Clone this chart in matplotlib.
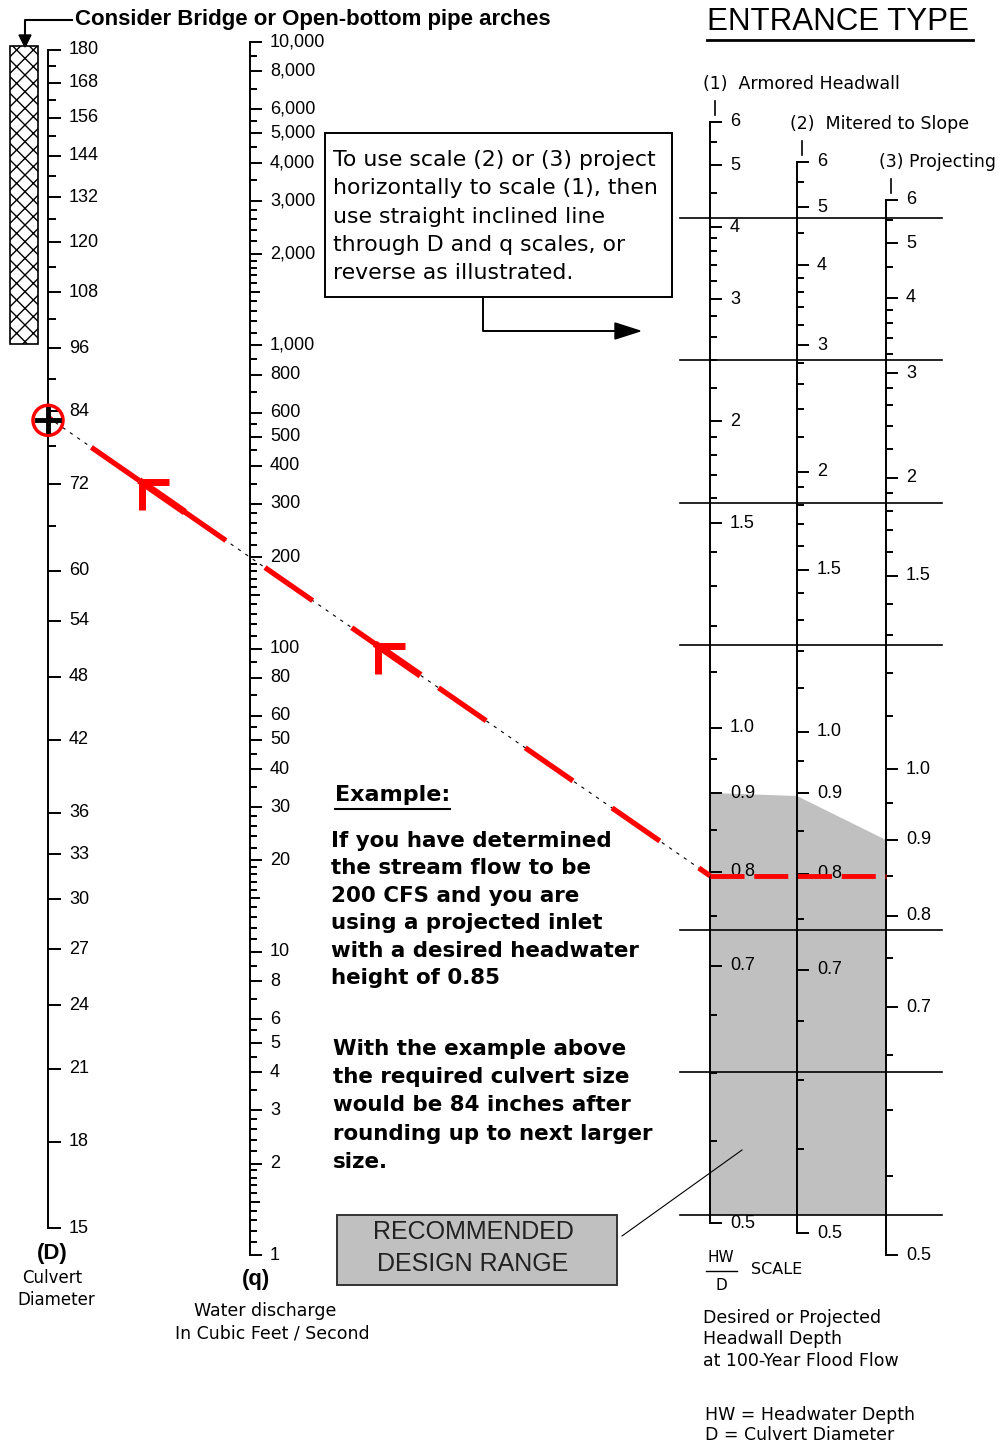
import numpy as np
import matplotlib.pyplot as plt
from matplotlib.patches import Rectangle, Polygon, Circle

# culvert diameter scale D (inches), log scale
d_labels = [180, 168, 156, 144, 132, 120, 108, 96, 84, 72, 60, 54, 48, 42, 36, 33, 30, 27, 24, 21, 18, 15]
d_minor = [174, 162, 150, 138, 126, 114, 102, 90, 78, 66]
d_bridge = [96, 180]          # "consider bridge" hatched range

# discharge scale q (cfs), log scale
q_labels = [10000, 8000, 6000, 5000, 4000, 3000, 2000, 1000, 800, 600, 500, 400,
            300, 200, 100, 80, 60, 50, 40, 30, 20, 10, 8, 6, 5, 4, 3, 2, 1]
q_minor_mult = [1.1, 1.2, 1.3, 1.4, 1.5, 1.6, 1.7, 1.8, 1.9, 2.2, 2.4, 2.6, 2.8, 3.5, 4.5, 5.5, 7, 9]
q_decades = [1, 10, 100, 1000]

# HW/D scales for the three entrance types
hw_labels = [6, 5, 4, 3, 2, 1.5, 1.0, 0.9, 0.8, 0.7, 0.5]
hw_minor = [5.5, 4.5, 3.8, 3.6, 3.4, 3.2, 2.8, 2.6, 2.4, 2.2, 1.9, 1.8, 1.7, 1.6,
            1.4, 1.3, 1.2, 1.1, 0.95, 0.85, 0.75, 0.65, 0.6, 0.55]
# where each labelled HW/D value sits on the printed scales (pixel rows)
hw_cal = [
    [122, 165, 227, 299, 421, 523, 728, 793, 872, 966, 1223],
    [162, 207, 265, 345, 472, 570, 732, 793, 874, 970, 1233],
    [200, 243, 298, 373, 478, 576, 769, 840, 916, 1007, 1255],
]
entrance_names = ["(1)  Armored Headwall", "(2)  Mitered to Slope", "(3) Projecting"]
design_top = 0.9

# worked example
example_q = 200
example_hwd = 0.85

# layout
XD, XQ = 48, 250
XHW = [710, 797, 886]
grid_rows = [0, 1, 2, 3, 5, 6, 7]


def d_y(v):
    return 50 + (np.log10(180) - np.log10(v)) * 1091.6


def q_y(v):
    return 42 + (4 - np.log10(v)) * 303.25


def hw_y(i, v):
    return np.interp(1.0 / np.asarray(v, float), 1.0 / np.array(hw_labels), hw_cal[i])


plt.rcParams['font.family'] = ['DejaVu Sans']
fig = plt.figure(figsize=(10, 14.44), dpi=100)
ax = fig.add_axes([0, 0, 1, 1])
ax.set_xlim(0, 1000)
ax.set_ylim(1444, 0)
ax.axis('off')

LW = 1.4
TICKFONT = dict(family='Liberation Sans', fontsize=13, va='center')


def tick(x, y, length):
    ax.plot([x, x + length], [y, y], color='k', lw=LW, solid_capstyle='butt')


# ---- D scale
ax.plot([XD, XD], [d_y(180), d_y(15)], color='k', lw=LW)
for v in d_labels:
    tick(XD, d_y(v), 13)
    ax.text(XD + 21, d_y(v), str(v), **TICKFONT)
for v in d_minor:
    tick(XD, d_y(v), 8)
ax.add_patch(Rectangle((10, d_y(d_bridge[1]) - 4), 28, d_y(d_bridge[0]) - d_y(d_bridge[1]),
                       facecolor='white', edgecolor='k', hatch='xx', lw=1.2))
ax.plot([72, 25, 25], [20, 20, 36], color='k', lw=1.5)
ax.add_patch(Polygon([(19, 35), (31, 35), (25, 47)], closed=True, color='k'))
ax.text(75, 20, "Consider Bridge or Open-bottom pipe arches", family='Liberation Sans',
        fontsize=16, fontweight='bold', va='center')
ax.text(52, 1253, "(D)", family='Liberation Sans', fontsize=16, fontweight='bold', ha='center', va='center')
ax.text(52, 1278, "Culvert", fontsize=12, ha='center', va='center')
ax.text(56, 1300, "Diameter", fontsize=12, ha='center', va='center')

# ---- q scale
ax.plot([XQ, XQ], [q_y(10000), q_y(1)], color='k', lw=LW)
for v in q_labels:
    tick(XQ, q_y(v), 12)
    ax.text(XQ + 20, q_y(v), f"{v:,}", **TICKFONT)
for dec in q_decades:
    for m in q_minor_mult:
        tick(XQ, q_y(m * dec), 10 if m == 1.5 else 7)
ax.text(256, 1280, "(q)", family='Liberation Sans', fontsize=16, fontweight='bold', ha='center', va='center')
ax.text(265, 1311, "Water discharge", fontsize=12.5, ha='center', va='center')
ax.text(272, 1334, "In Cubic Feet / Second", fontsize=12.5, ha='center', va='center')

# ---- HW/D scales
y_top = [hw_y(i, design_top) for i in range(3)]
ax.add_patch(Polygon([(XHW[0], y_top[0]), (XHW[1], y_top[1] + 3), (XHW[2], y_top[2]),
                      (XHW[2], 1215), (XHW[0], 1215)], closed=True,
                     facecolor='#c0c0c0', edgecolor='none', zorder=0))
for r in grid_rows:
    y = 218 + r * 142.4
    ax.plot([680, 942], [y, y], color='k', lw=1.2)

for i, x in enumerate(XHW):
    ax.plot([x, x], [hw_cal[i][0], hw_cal[i][-1]], color='k', lw=LW)
    for v in hw_labels:
        tick(x, hw_y(i, v), 12)
        lab = str(int(v)) if v >= 2 else f"{v:.1f}"
        ax.text(x + 20, hw_y(i, v), lab, **TICKFONT)
    for v in hw_minor:
        tick(x, hw_y(i, v), 7)
    ax.plot([x + 5, x + 5], [hw_cal[i][0] - 21, hw_cal[i][0] - 7], color='k', lw=1.2)
    ax.text(x - 7, hw_cal[i][0] - 38, entrance_names[i], fontsize=12.5, va='center')

ax.text(707, 22, "ENTRANCE TYPE", family='Liberation Sans', fontsize=22.5, va='center')
ax.plot([707, 973], [40, 40], color='k', lw=2)

ax.text(721, 1258, "HW", fontsize=11, ha='center', va='center')
ax.plot([706, 737], [1271, 1271], color='k', lw=1)
ax.text(721, 1285, "D", fontsize=11, ha='center', va='center')
ax.text(751, 1270, "SCALE", fontsize=11.5, va='center')
for k, s in enumerate(["Desired or Projected", "Headwall Depth", "at 100-Year Flood Flow"]):
    ax.text(703, 1318 + k * 21.5, s, fontsize=12.5, va='center')
ax.text(705, 1415, "HW = Headwater Depth", fontsize=12.5, va='center')
ax.text(705, 1435, "D = Culvert Diameter", fontsize=12.5, va='center')

# ---- instruction box
ax.add_patch(Rectangle((325, 133), 347, 164, facecolor='white', edgecolor='k', lw=1.4))
box_lines = ["To use scale (2) or (3) project", "horizontally to scale (1), then",
             "use straight inclined line", "through D and q scales, or",
             "reverse as illustrated."]
for k, s in enumerate(box_lines):
    ax.text(333, 160 + k * 28.3, s, fontsize=15.8, va='center')
ax.plot([483, 483, 620], [297, 331, 331], color='k', lw=1.4)
ax.add_patch(Polygon([(615, 323), (615, 339), (640, 331)], closed=True, color='k'))

# ---- example text
ex = ax.text(335, 795, "Example:", fontsize=16, fontweight='bold', va='center')
para1 = ["If you have determined", "the stream flow to be", "200 CFS and you are",
         "using a projected inlet", "with a desired headwater", "height of 0.85"]
para2 = ["With the example above", "the required culvert size", "would be 84 inches after",
         "rounding up to next larger", "size."]
for k, s in enumerate(para1):
    ax.text(331, 841 + k * 27.4, s, fontsize=15.4, fontweight='bold', va='center')
for k, s in enumerate(para2):
    ax.text(333, 1049 + k * 28.2, s, fontsize=15.4, fontweight='bold', va='center')

fig.canvas.draw()
bb = ex.get_window_extent().transformed(ax.transData.inverted())
ax.plot([bb.x0, bb.x1], [809, 809], color='k', lw=1.5)

# ---- recommended design range box
ax.add_patch(Rectangle((337, 1215), 280, 70, facecolor='#c0c0c0', edgecolor='#333333', lw=1.4))
ax.text(473, 1232, "RECOMMENDED", family='Liberation Sans', fontsize=18, ha='center', va='center', color='#222222')
ax.text(473, 1264, "DESIGN RANGE", family='Liberation Sans', fontsize=18, ha='center', va='center', color='#222222')
ax.plot([622, 742], [1236, 1150], color='k', lw=0.8)

# ---- worked example line
y_hw = hw_y(2, example_hwd)
x1, y1 = XHW[0], float(y_hw)
xq, yq = XQ, q_y(example_q)
slope = (y1 - yq) / (x1 - xq)
x0, y0 = XD, yq - (xq - XD) * slope

ax.plot([x0, x1], [y0, y1], color='k', lw=0.8, linestyle=(0, (3, 5)), zorder=4)
ax.plot([x0, x1], [y0, y1], color='red', lw=3.8, linestyle=(10, (11, 9)), zorder=5)
ax.plot([XHW[0], XHW[2]], [y1, y1], color='red', lw=3.5, linestyle=(0, (7, 2)), zorder=5)
for f in [0.142, 0.498]:
    tx = x0 + f * (x1 - x0)
    ty = y0 + f * (y1 - y0)
    ax.plot([tx + 27, tx, tx], [ty, ty, ty + 28], color='red', lw=5,
            solid_joinstyle='miter', solid_capstyle='butt', zorder=6)
    ax.plot([tx, tx + 40], [ty, ty + 40 * slope], color='red', lw=5, zorder=6)

ax.add_patch(Circle((x0, y0 + 3), 15, fill=False, edgecolor='red', lw=2.5, zorder=7))
ax.plot([x0 - 11, x0 + 11], [y0 + 3, y0 + 3], color='k', lw=3.5, zorder=8)
ax.plot([x0, x0], [y0 - 8, y0 + 14], color='k', lw=3.5, zorder=8)

fig.savefig('out.png', dpi=100)
